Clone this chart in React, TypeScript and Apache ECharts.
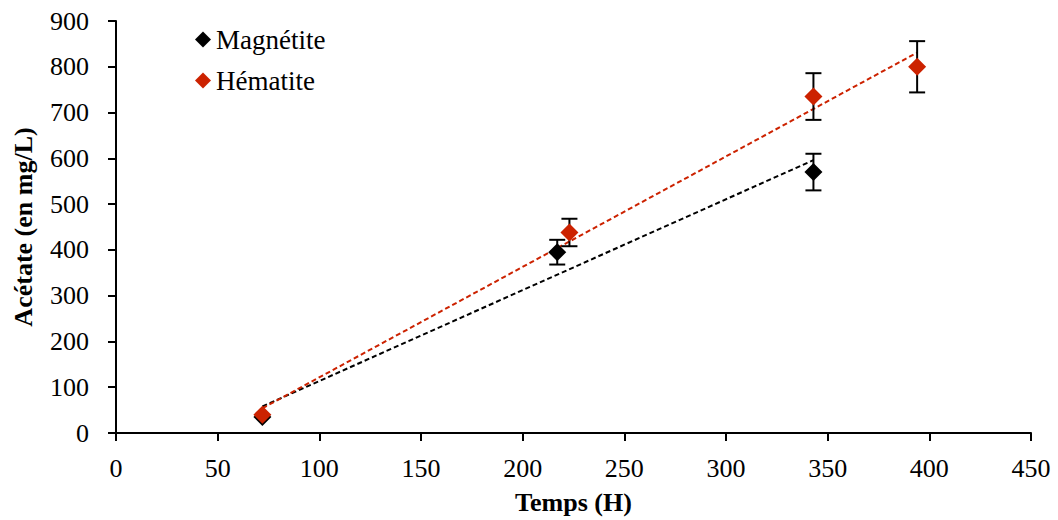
import React, { useEffect, useRef } from "react";
import * as echarts from "echarts";

const magX = [72, 217, 343];
const magY = [35, 395, 570];
const magErr = [0, 27, 40];
const hemX = [72, 223, 343, 394];
const hemY = [40, 438, 735, 800];
const hemErr = [0, 30, 51, 56];
const magTrend = [[72, 58], [343, 596]];
const hemTrend = [[72, 54], [394, 831]];
const xTicks = { min: 0, max: 450, interval: 50 };
const yTicks = { min: 0, max: 900, interval: 100 };

const RED = "#CC2200";
const FONT = "Liberation Serif";

export default function App() {
  const ref = useRef<HTMLDivElement>(null);
  useEffect(() => {
    if (!ref.current) return;
    const chart = echarts.init(ref.current, undefined, { renderer: "svg" });
    const errRender = (params: any, api: any) => {
      const x = api.value(0), y = api.value(1), e = api.value(2);
      if (!e) return null;
      const t = api.coord([x, y + e]);
      const b = api.coord([x, y - e]);
      const hw = 8;
      const st = { stroke: "#000", lineWidth: 2 };
      return {
        type: "group",
        children: [
          { type: "line", shape: { x1: t[0], y1: t[1], x2: b[0], y2: b[1] }, style: st },
          { type: "line", shape: { x1: t[0] - hw, y1: t[1], x2: t[0] + hw, y2: t[1] }, style: st },
          { type: "line", shape: { x1: b[0] - hw, y1: b[1], x2: b[0] + hw, y2: b[1] }, style: st },
        ],
      };
    };
    const axisCommon = {
      type: "value",
      axisLine: { show: true, lineStyle: { color: "#000", width: 2 } },
      axisTick: { show: true, inside: false, length: 8, lineStyle: { color: "#000", width: 2 } },
      splitLine: { show: false },
      axisLabel: { color: "#000", fontFamily: FONT, fontSize: 26 },
      nameTextStyle: { color: "#000", fontFamily: FONT, fontSize: 26, fontWeight: "bold" },
      nameLocation: "middle",
    };
    chart.setOption({
      animation: false,
      backgroundColor: "#fff",
      grid: { left: 116, top: 21, right: 27, bottom: 85 },
      legend: {
        data: ["Magnétite", "Hématite"],
        orient: "vertical",
        left: 190,
        top: 21,
        itemGap: 14,
        itemWidth: 16,
        itemHeight: 16,
        textStyle: { color: "#000", fontFamily: FONT, fontSize: 27 },
      },
      xAxis: {
        ...axisCommon,
        ...xTicks,
        name: "Temps (H)",
        nameGap: 56,
        axisLabel: { ...axisCommon.axisLabel, margin: 22 },
      },
      yAxis: {
        ...axisCommon,
        ...yTicks,
        name: "Acétate (en mg/L)",
        nameGap: 80,
        axisLabel: { ...axisCommon.axisLabel, margin: 27 },
      },
      series: [
        {
          type: "line",
          data: magTrend,
          symbol: "none",
          lineStyle: { color: "#000", width: 2, type: [5, 3] },
          z: 1,
          silent: true,
        },
        {
          type: "line",
          data: hemTrend,
          symbol: "none",
          lineStyle: { color: RED, width: 2, type: [5, 3] },
          z: 1,
          silent: true,
        },
        {
          type: "custom",
          renderItem: errRender,
          data: magX.map((x, i) => [x, magY[i], magErr[i]]),
          z: 2,
        },
        {
          type: "custom",
          renderItem: errRender,
          data: hemX.map((x, i) => [x, hemY[i], hemErr[i]]),
          z: 2,
        },
        {
          name: "Magnétite",
          type: "scatter",
          symbol: "diamond",
          symbolSize: 18,
          itemStyle: { color: "#000", opacity: 1 },
          data: magX.map((x, i) => [x, magY[i]]),
          z: 3,
        },
        {
          name: "Hématite",
          type: "scatter",
          symbol: "diamond",
          symbolSize: 18,
          itemStyle: { color: RED, opacity: 1 },
          data: hemX.map((x, i) => [x, hemY[i]]),
          z: 4,
        },
      ],
    });
    return () => chart.dispose();
  }, []);
  return (
    <div
      ref={ref}
      style={{ position: "fixed", left: 0, top: 0, width: 1058, height: 520 }}
    />
  );
}
